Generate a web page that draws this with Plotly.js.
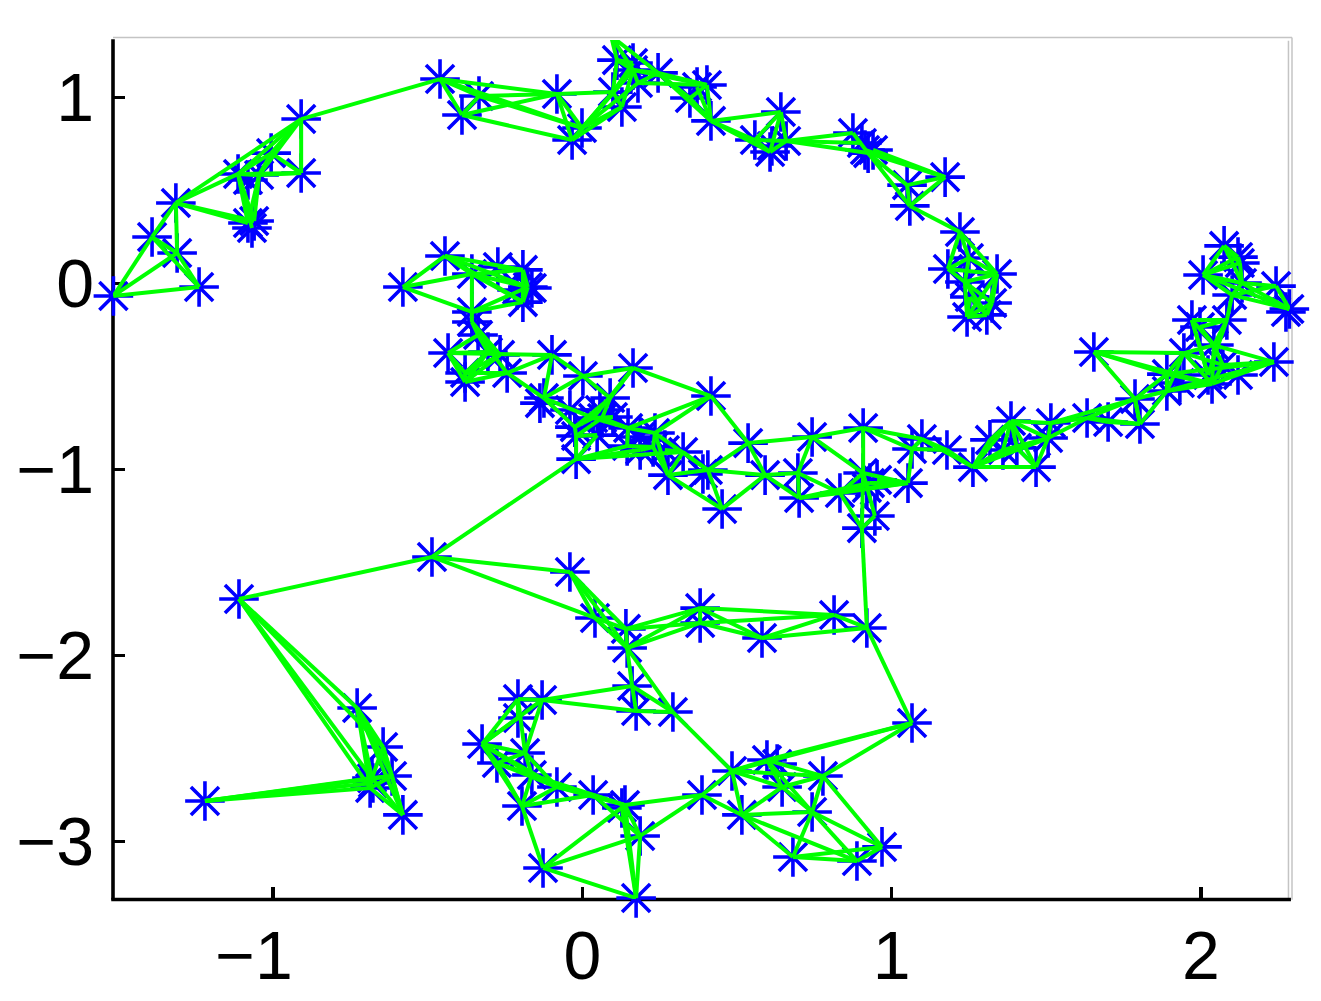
<!DOCTYPE html>
<html>
<head>
<meta charset="utf-8">
<script src="https://cdn.plot.ly/plotly-3.0.1.min.js"></script>
<style>html,body{margin:0;padding:0;background:#fff}</style>
</head>
<body>
<div id="chart" style="width:1321px;height:1001px"></div>
<script>
const nodeNames = [
 'a0','a1','a2','a3','a4','a5','a6','a7','a8','a12','a13','a9','a10','a11',
 'b0','b1','b2','b3','b4','b5','b6','b7','b8','b9','b10','b11','b12','ap',
 'c0','c1','c2','c3','b14','b15','b16','b17','b18',
 'd0','d1','d2','d3','d4','d5','d6','d7','d8','d9','d10','d11','d12','d13','d14','d15','d16',
 'e0','e1','e2','e3','e4','e5','e6','e7','e7b','e8','e9','e9b','e10','e11','e12','e13','e14','e15','e16','e17','e18','e19','e20','e21',
 'f0','f1','f2','f2b','f3','f4','f5','f6','f7','f8','f9','f10','f11','f12','f12b','f13','f14','f15','f16','f17','f18','f19','f20','f21','f22','f23','f24','f25','f26','f27','f28','f30',
 'g0','g1','g2','g3','g4','g5','g6','g7','g8','g9','g10','g11','g13','g14','g15','g16','g17','g18','g19','g20','g21','g22','g23','g24','g25','g26','g29','g30','g31','g32','g33',
 'k0','k1','k2','k3','k4','k5','k6','k7','k10','k8','k9',
 'h0','h1','h2','h3','h4','h5','h6','h7','h8','h9','h10','h11','h12',
 'i0','i1','i2','i3','i4','i5','i6','i7','i8',
 'j0','j1','j2','j3','j4','j5','j6','j7','j8','j9','j10','j10b','j11','j12','j13','j14',
 'l0','l1','l2','l2b','l3','l4','l5','l6','l8','l9','l10'
];
const nodeX = [
 -1.516,-1.239,-1.391,-1.310,-1.314,-1.113,-1.045,-1.061,-1.081,-1.068,-1.081,-1.006,-0.909,-0.909,
 -0.460,-0.334,-0.389,-0.082,-0.033,-0.001,0.128,0.099,0.112,0.164,0.180,0.245,0.164,0.093,
 0.403,0.371,0.348,0.416,0.642,0.558,0.607,0.659,0.613,
 0.875,0.904,0.924,0.940,0.914,1.173,1.050,1.059,1.221,1.182,1.250,1.341,1.237,1.325,1.244,1.308,1.253,
 2.075,2.007,2.120,2.126,2.133,2.101,2.243,2.286,2.275,1.971,2.084,1.997,2.042,1.945,1.890,1.890,2.036,2.071,2.120,2.236,1.654,1.787,1.932,2.023,
 0.416,0.536,0.406,0.390,0.452,0.591,0.743,0.697,0.701,0.908,0.833,0.908,0.930,0.953,0.920,1.053,0.946,0.904,1.066,1.098,1.179,1.263,1.318,1.386,1.360,1.405,1.467,1.506,1.515,1.632,1.700,1.803,
 -0.434,-0.379,-0.379,-0.337,-0.305,-0.266,-0.243,-0.098,0.002,0.164,-0.124,-0.137,-0.024,-0.020,0.035,0.090,0.064,0.048,0.148,0.145,0.235,0.229,-0.020,0.187,0.326,0.277,0.099,0.057,-0.040,0.187,0.267,
 -0.580,-0.444,-0.357,-0.273,-0.192,-0.192,-0.176,-0.163,-0.211,-0.357,-0.357,
 -0.486,-0.040,0.041,0.141,0.145,0.381,0.381,0.581,0.814,0.920,0.161,0.174,0.293,
 -1.110,-0.728,-0.644,-0.615,-0.680,-0.686,-0.677,-0.580,-1.220,
 -0.208,-0.130,-0.208,-0.324,-0.185,-0.276,-0.163,-0.082,-0.195,0.035,0.138,0.128,0.187,-0.127,0.174,0.387,
 1.066,0.484,0.597,0.630,0.646,0.778,0.743,0.516,0.681,0.888,0.969
];
const nodeY = [
 -0.068,-0.020,0.249,0.163,0.432,0.588,0.582,0.335,0.324,0.297,0.555,0.700,0.593,0.883,
 1.098,1.007,0.905,1.018,0.770,0.835,0.948,1.028,1.200,1.147,1.077,1.131,1.184,1.330,
 1.066,1.055,0.996,0.873,0.921,0.770,0.706,0.765,0.738,
 0.808,0.754,0.700,0.717,0.717,0.571,0.528,0.416,0.276,0.077,0.136,0.050,0.007,-0.106,-0.181,-0.170,-0.074,
 0.201,0.045,0.141,0.109,0.002,-0.063,-0.015,-0.138,-0.154,-0.197,-0.197,-0.235,-0.332,-0.375,-0.488,-0.579,-0.541,-0.439,-0.493,-0.423,-0.369,-0.622,-0.536,-0.493,
 -0.606,-0.859,-1.004,-1.025,-1.213,-1.031,-0.826,-1.020,-1.154,-0.778,-1.127,-1.020,-1.074,-1.057,-1.100,-1.074,-1.251,-1.316,-0.891,-0.837,-0.896,-0.988,-0.842,-0.740,-0.896,-0.885,-0.988,-0.832,-0.751,-0.724,-0.746,-0.756,
 -0.375,-0.482,-0.531,-0.278,-0.369,-0.385,-0.482,-0.385,-0.498,-0.455,-0.617,-0.644,-0.773,-0.821,-0.724,-0.617,-0.724,-0.816,-0.778,-0.875,-0.805,-0.880,-0.945,-0.896,-0.907,-1.031,-0.719,-0.681,-0.681,-0.826,-0.896,
 -0.020,0.147,0.050,0.088,0.072,-0.101,-0.020,-0.025,-0.036,-0.154,-0.208,
 -1.471,-1.552,-1.799,-1.858,-1.961,-1.746,-1.826,-1.907,-1.783,-1.853,-2.165,-2.299,-2.305,
 -1.697,-2.283,-2.493,-2.649,-2.660,-2.713,-2.686,-2.858,-2.783,
 -2.235,-2.240,-2.337,-2.477,-2.525,-2.579,-2.643,-2.708,-2.810,-2.751,-2.805,-2.821,-2.971,-3.143,-3.305,-2.751,
 -2.364,-2.622,-2.563,-2.584,-2.708,-2.649,-2.842,-2.858,-3.084,-3.106,-3.030
];
const edgesTopLeft = 'a0-a1 a0-a2 a0-a3 a2-a4 a2-a3 a2-a1 a3-a1 a3-a4 a4-a5 a4-a7 a4-a8 a5-a7 a5-a8 a6-a7 a6-a8 a5-a6 a5-a12 a6-a10 a5-a10 a9-a10 a5-a11 a6-a11 a9-a11 a10-a11 a5-a9 a6-a9 a4-a11 a11-b0'.split(' ');
const edgesTop = 'b0-b1 b0-b2 b0-b3 b0-b5 b1-b2 b1-b3 b1-b5 b2-b3 b2-b4 b3-b4 b3-b5 b3-b7 b4-b5 b4-b6 b4-b9 b5-b6 b5-b7 b5-b9 b5-b10 b6-b7 b6-b9 b7-b9 b7-b8 b7-b12 b8-b9 ap-b8 ap-b9 ap-b11 b8-b12 b9-b10 b9-b11 b10-b11 b10-c0 b9-c0 b11-c0 b11-c2 b11-c3 c0-c3 c0-c2 c1-c3 c2-c3 c3-b14 c3-b15 c3-b16 b14-b15 b14-b16 b14-b17 b15-b16 b16-b17 b15-b17 b17-d0 b17-d2 b17-d1 d0-d2'.split(' ');
const edgesRightArc = 'd2-d5 d3-d5 d4-d5 d2-d6 d2-d7 d6-d5 d6-d7 d5-d7 d7-d8 d8-d9 d8-d10 d8-d11 d9-d10 d9-d11 d10-d11 d9-d12 d10-d12 d11-d12 d12-d14 d12-d15 d12-d13 d11-d14 d11-d15 d14-d15 d13-d14 d11-d13 d13-d15 d16-d15 d16-d14'.split(' ');
const edgesFarRight = 'e0-e1 e0-e2 e0-e3 e0-e4 e1-e2 e1-e3 e1-e4 e1-e5 e1-e7 e2-e3 e3-e4 e4-e6 e4-e7 e5-e6 e5-e7 e6-e7 e4-e5 e5-e9 e8-e9 e8-e10 e9-e10 e8-e21 e9-e21 e21-e8 e9b-e10 e9b-e9 e10-e11 e10-e14 e10-e15 e10-e17 e11-e12 e11-e13 e11-e14 e11-e15 e12-e13 e12-e14 e13-e14 e14-e15 e15-e17 e14-e17 e13-e17 e18-e11 e18-e12 e18-e14 e18-e19 e19-e13 e19-e12 e12-e17'.split(' ');
const edgesMiddle = 'f0-f1 f1-f2 f1-f5 f1-f4 f2-f3 f2-f4 f3-f4 f4-f6 f6-f5 f6-f7 f4-f7 f5-f8 f5-f10 f6-f9 f7-f9 f8-f10 f8-f16 f8-f17 f9-f10 f9-f11 f9-f13 f9-f15 f10-f13 f11-f13 f12-f13 f12b-f13 f7-f11 f10-f14 f10-f15 f14-f15 f13-f16 f16-f17 f16-f18 f17-f18 f17-f19 f18-f19 f19-f21 f19-f20 f19-f23 f19-f24 f19-f25 f20-f21 f21-f23 f21-f24 f23-f24 f21-f25 f21-f26 f25-f26 f24-f25 f26-f27 f25-f27 f27-f28 f27-e19 f26-e19 f28-f30 e19-f30 f27-f30 f22-f21 f22-f19 f22-f25 f30-e13 f30-e19'.split(' ');
const edgesInner = 'g0-g1 g0-g2 g0-g4 g0-g7 g3-g0 g3-g4 g3-g5 g3-g6 g4-g1 g4-g2 g5-g1 g5-g2 g1-g2 g2-g6 g1-g6 g4-g5 k9-g3 k9-g5 g6-g7 g6-g10 g7-g8 g7-g10 g8-g9 g8-g10 g8-g16 g9-g16 g9-g15 g10-g13 g10-g15 g13-g16 g15-g13 g13-g14 g14-g18 g14-g23 g18-g23 g14-g17 g16-g17 g17-g19 g19-f0 g9-f0 g19-g21 g19-g20 g15-g19 g21-f0 g23-g20 g23-g24 g23-g25 g20-g22 g22-g26 g21-g22 g21-g26 g25-f2 g26-f2 g26-f3 g25-g26 g29-g15 g30-g13 g21-f2 g24-g22 g33-g25 g23-h0'.split(' ');
const edgesUpperCurl = 'k0-k1 k0-k2 k0-k8 k1-k2 k1-k4 k1-k5 k1-k6 k2-k4 k2-k6 k2-k5 k2-k8 k3-k4 k4-k6 k4-k5 k5-k6 k8-k5 k8-k6 k8-k9'.split(' ');
const edgesBand = 'h0-h1 h0-h2 h0-i0 h1-h2 h1-h3 h1-h4 h2-h3 h2-h4 h3-h4 h3-h5 h3-h6 h4-h5 h4-h6 h5-h6 h5-h7 h5-h8 h6-h7 h6-h8 h7-h8 h7-h9 h8-h9 h4-h10 h4-h12 h10-h11 h10-h12 h11-h12 h9-f15 h9-l0 h12-l1'.split(' ');
const edgesLeftCluster = 'i0-i1 i0-i2 i0-i4 i0-i5 i1-i2 i1-i3 i1-i4 i1-i5 i1-i7 i2-i3 i2-i4 i2-i7 i3-i4 i3-i5 i3-i7 i4-i5 i4-i7 i5-i7 i8-i3 i8-i4 i8-i5 i8-i6'.split(' ');
const edgesLower = 'j0-j1 j0-j2 j0-j3 j0-j4 j1-j3 j1-j4 j2-j3 j1-h10 j1-h11 j3-j4 j3-j5 j3-j6 j3-j7 j3-j8 j4-j5 j4-j6 j4-j7 j5-j6 j5-j7 j5-j8 j6-j7 j6-j8 j7-j8 j8-j9 j8-j12 j7-j9 j7-j10 j9-j10 j6-j10 j9-j11 j10-j11 j10-j12 j10-j13 j10-j14 j11-j12 j11-j13 j11-j14 j12-j13 j10b-j13'.split(' ');
const edgesLowerRight = 'l0-l2 l0-l1 l0-l4 l1-l2 l1-l3 l1-l4 l1-l6 l1-j14 l2-l3 l2-l4 l2-l5 l3-l4 l3-l5 l3-l6 l4-l5 l4-l10 l5-l6 l5-l8 l5-l9 l5-l10 l6-l8 l6-l9 l6-j14 l8-l9 l8-l10 l9-l10'.split(' ');
const tickX = [-1, 0, 1, 2];
const tickXLabels = ['\u22121\u00A0\u00A0', '0', '1', '2'];
const tickY = [1, 0, -1, -2, -3];
const tickYLabels = ['1', '0', '\u22121', '\u22122', '\u22123'];

const allEdges = [].concat(edgesTopLeft, edgesTop, edgesRightArc, edgesFarRight, edgesMiddle, edgesInner, edgesUpperCurl, edgesBand, edgesLeftCluster, edgesLower, edgesLowerRight);
const edgeX = [], edgeY = [];
allEdges.forEach(function (e) {
  const parts = e.split('-');
  const p = nodeNames.indexOf(parts[0]), q = nodeNames.indexOf(parts[1]);
  if (p < 0 || q < 0) { console.error('bad edge', e); return; }
  edgeX.push(nodeX[p], nodeX[q], null);
  edgeY.push(nodeY[p], nodeY[q], null);
});

const axisBase = {
  showgrid: false, zeroline: false, showline: false,
  ticks: 'inside', ticklen: 12, tickwidth: 3.5, tickcolor: '#000', layer: 'below traces',
  tickfont: {family: 'Liberation Sans, Arial, sans-serif', size: 68, color: '#000'},
  tickmode: 'array', automargin: false
};
const frame = {type: 'line', xref: 'paper', yref: 'paper', layer: 'below'};
Plotly.newPlot('chart', [
  {type: 'scatter', mode: 'markers', x: nodeX, y: nodeY, cliponaxis: false, hoverinfo: 'skip',
   marker: {symbol: 'asterisk-open', size: 33, color: '#0000ff', line: {color: '#0000ff', width: 3.6}}},
  {type: 'scatter', mode: 'lines', x: edgeX, y: edgeY, cliponaxis: true, connectgaps: false, hoverinfo: 'skip',
   line: {color: '#00ff00', width: 4}}
], {
  width: 1321, height: 1001, showlegend: false,
  margin: {l: 113, r: 31, t: 40, b: 102, pad: 0},
  paper_bgcolor: '#fff', plot_bgcolor: '#fff',
  xaxis: Object.assign({}, axisBase, {range: [-1.5173, 2.2881], tickvals: tickX, ticktext: tickXLabels, ticklabelstandoff: 11}),
  yaxis: Object.assign({}, axisBase, {range: [-3.310, 1.308], tickvals: tickY, ticktext: tickYLabels, ticklabelstandoff: 18}),
  shapes: [
    Object.assign({}, frame, {x0: 0, x1: 1.0017, y0: 1.0029, y1: 1.0029, line: {color: '#c4c4c4', width: 1.5}}),
    Object.assign({}, frame, {x0: 1.0017, x1: 1.0017, y0: -0.001, y1: 1.0029, line: {color: '#c4c4c4', width: 1.5}}),
    Object.assign({}, frame, {x0: 0.9987, x1: 0.9987, y0: 0.001, y1: 0.999, line: {color: '#c4c4c4', width: 1.5}}),
    Object.assign({}, frame, {x0: 0, x1: 0, y0: -0.001, y1: 1.001, line: {color: '#000', width: 3.6}}),
    Object.assign({}, frame, {x0: -0.0015, x1: 1.0008, y0: -0.0005, y1: -0.0005, line: {color: '#000', width: 3.6}})
  ]
}, {displayModeBar: false, staticPlot: true});
</script>
</body>
</html>
